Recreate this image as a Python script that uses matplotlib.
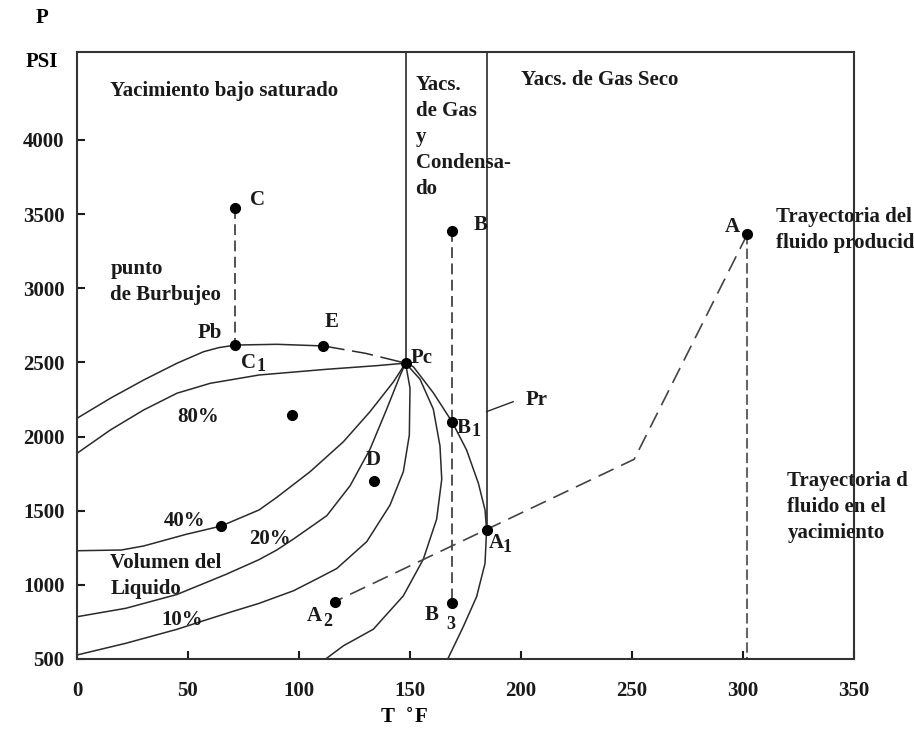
import matplotlib
matplotlib.use("Agg")
import matplotlib.pyplot as plt

plt.rcParams['font.family'] = ['Liberation Serif', 'DejaVu Serif']
plt.rcParams['font.weight'] = 'bold'

# envelope curves (T degF, P psi)
bubble_T = [0, 15, 30, 45, 57, 64, 71.5, 90, 111]
bubble_P = [2123, 2258, 2381, 2494, 2572, 2600, 2617, 2622, 2611]
bubble_end_T = [111, 130, 148]
bubble_end_P = [2611, 2561, 2495]

q80_T = [0, 15, 30, 45, 60, 82, 112, 135, 148]
q80_P = [1887, 2044, 2179, 2292, 2359, 2415, 2453, 2478, 2495]

q40_T = [0, 20, 30, 49, 65, 82, 90, 105, 120, 132, 142.6, 148]
q40_P = [1230, 1235, 1262, 1340, 1397, 1505, 1590, 1763, 1965, 2168, 2370, 2495]

q20_T = [0, 22, 45, 67, 82, 90, 97.5, 112.5, 123, 132, 139.5, 145.5, 148]
q20_P = [785, 842, 935, 1070, 1170, 1235, 1309, 1466, 1668, 1915, 2185, 2410, 2495]

q10_T = [0, 22, 45, 58, 70, 82, 97.5, 108, 117, 130.5, 141, 147, 149.7, 150, 148]
q10_P = [527, 606, 700, 763, 820, 875, 960, 1040, 1110, 1291, 1538, 1763, 2010, 2326, 2495]

q05_T = [148, 154.5, 160.5, 163.5, 164.3, 162, 156, 147, 133.5, 120, 112]
q05_P = [2495, 2387, 2185, 1937, 1712, 1443, 1173, 926, 701, 589, 500]

dew_T = [148, 151.5, 160.5, 169, 175.5, 180.8, 183.8, 184.5, 183.8, 180, 174, 167]
dew_P = [2495, 2471, 2295, 2098, 1909, 1685, 1505, 1370, 1145, 920, 718, 500]

# points
pts = {
    'C': (71, 3543), 'C1': (71, 2617), 'E': (111, 2611), 'Pc': (148, 2495),
    'M': (96.7, 2145), 'D': (133.8, 1702), 'L40': (65, 1397), 'A2': (116, 886),
    'B': (169, 3386), 'B1': (169, 2098), 'B3': (169, 876), 'A1': (184.5, 1370),
    'A': (302, 3366),
}

# production / reservoir paths
pathA_T = [302, 251, 116]
pathA_P = [3366, 1847, 886]

x_ticks = [0, 50, 100, 150, 200, 250, 300, 350]
y_ticks = [500, 1000, 1500, 2000, 2500, 3000, 3500, 4000]

fig = plt.figure(figsize=(9.14, 7.46), dpi=100)
ax = fig.add_axes([77 / 914, 87 / 746, (854 - 77) / 914, (659 - 52) / 746])
ax.set_xlim(0, 350)
ax.set_ylim(500, 4593)

lc = '#2a2a2a'
lw = 1.1
ax.plot(bubble_T, bubble_P, color=lc, lw=lw)
ax.plot(bubble_end_T, bubble_end_P, color=lc, lw=lw, dashes=(14, 5))
for T, P in [(q80_T, q80_P), (q40_T, q40_P), (q20_T, q20_P), (q10_T, q10_P),
             (q05_T, q05_P), (dew_T, dew_P)]:
    ax.plot(T, P, color=lc, lw=lw)

# region dividers
ax.plot([148, 148], [4593, 2495], color=lc, lw=1.2)
ax.plot([184.5, 184.5], [4593, 1370], color=lc, lw=1.2)
ax.plot([184.5, 196.5], [2168, 2235], color=lc, lw=1.0)

# dashed paths
ax.plot([71, 71], [3543, 2617], color='#444', lw=1.3, dashes=(6, 3))
ax.plot([169, 169], [3386, 876], color='#444', lw=1.3, dashes=(6, 3))
ax.plot([302, 302], [3366, 500], color='#666', lw=1.5, dashes=(5, 2))
ax.plot(pathA_T, pathA_P, color='#444', lw=1.2, dashes=(10, 5))

xs = [p[0] for p in pts.values()]
ys = [p[1] for p in pts.values()]
ax.plot(xs, ys, 'o', color='black', ms=7, zorder=5)

fs = 15
ls = 1.4
def lab(x, y, s, size=fs, **kw):
    ax.text(x, y, s, fontsize=size, fontweight='bold', color='#1a1a1a', **kw)

lab(15, 4332, 'Yacimiento bajo saturado', va='center')
lab(152.5, 4440, 'Yacs.\nde Gas\ny\nCondensa-\ndo', va='top', linespacing=ls)
lab(200, 4404, 'Yacs. de Gas Seco', va='center')
lab(15, 3040, 'punto\nde Burbujeo', va='center', linespacing=ls)
lab(78, 3595, 'C', va='center')
lab(178.5, 3427, 'B', va='center')
lab(295, 3415, 'A', va='center', ha='center')
lab(315, 3390, 'Trayectoria del\nfluido producid', va='center', linespacing=ls)
lab(320, 1525, 'Trayectoria d\nfluido en el\nyacimiento', va='center', linespacing=ls)
lab(60, 2696, 'Pb', va='center', ha='center')
lab(114.7, 2774, 'E', va='center', ha='center')
lab(74, 2494, 'C', va='center')
lab(81, 2470, '1', va='center', size=13)
lab(150.5, 2528, 'Pc', va='center')
lab(54.6, 2134, '80%', va='center', ha='center')
lab(133.5, 1842, 'D', va='center', ha='center')
lab(48.6, 1432, '40%', va='center', ha='center')
lab(87, 1307, '20%', va='center', ha='center')
lab(15, 1063, 'Volumen del\nLiquido', va='center', linespacing=ls)
lab(47.2, 763, '10%', va='center', ha='center')
lab(107, 790, 'A', va='center', ha='center')
lab(113, 750, '2', va='center', ha='center', size=13)
lab(159.7, 797, 'B', va='center', ha='center')
lab(168.5, 735, '3', va='center', ha='center', size=13)
lab(171, 2060, 'B', va='center')
lab(177.5, 2035, '1', va='center', size=13)
lab(185.5, 1285, 'A', va='center')
lab(191.5, 1250, '1', va='center', size=13)
lab(202, 2246, 'Pr', va='center')

fig.text(42 / 914, 1 - 18 / 746, 'P', fontsize=fs, fontweight='bold', ha='center', va='center')
fig.text(42 / 914, 1 - 62 / 746, 'PSI', fontsize=fs, fontweight='bold', ha='center', va='center')
fig.text(404 / 914, 1 - 718 / 746, r'T  $^{\circ}$F', fontsize=fs, fontweight='bold', ha='center', va='center')

ax.set_xticks(x_ticks)
ax.set_yticks(y_ticks)
ax.tick_params(direction='in', length=6, width=1.5, labelsize=fs, colors='#1a1a1a')
ax.tick_params(axis='x', pad=16)
ax.tick_params(axis='y', pad=9)
for t in ax.get_xticklabels() + ax.get_yticklabels():
    t.set_fontweight('bold')
for s in ax.spines.values():
    s.set_linewidth(1.5)
    s.set_color('#333333')

fig.savefig('out.png', dpi=100)
